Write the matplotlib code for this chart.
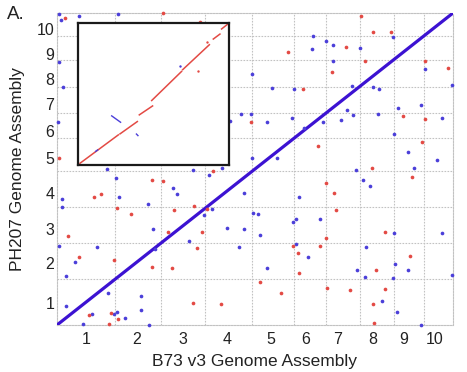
import matplotlib
matplotlib.use("Agg")
import numpy as np
import matplotlib.pyplot as plt

plt.rcParams["font.family"] = ["Liberation Sans", "DejaVu Sans"]

# chromosome lengths (Mb)
b73_len = [301.4, 237.9, 232.2, 242.0, 217.9, 169.4, 176.8, 175.4, 157.0, 149.6]
ph207_len = [310, 240, 242, 244, 224, 164, 179, 180, 164, 153]
chrom_lbl = ["1", "2", "3", "4", "5", "6", "7", "8", "9", "10"]
xtick_pos = [151, 415, 654, 883, 1112, 1291, 1459, 1643, 1803, 1964]
ytick_pos = [146, 415, 646, 887, 1122, 1306, 1486, 1656, 1822, 1992]

# off-diagonal hits, cumulative Mb (B73, PH207)
blue_x = [10, 115, 319, 21, 10, 33, 5, 262, 307, 602, 709, 788, 857, 902, 1750, 1331, 1400,
          1433, 1324, 1576, 1433, 1915, 1015, 1116, 1234, 1534, 1646, 1676, 2056, 959, 1009,
          1094, 1222, 1383, 1477, 1508, 1542, 1672, 1773, 1893, 2000, 1286, 1752, 1825, 1974,
          1016, 1146, 1556, 1857, 1594, 1628, 623, 26, 26, 323, 472, 767, 808, 501, 883, 685,
          13, 207, 510, 949, 93, 48, 264, 436, 47, 436, 184, 299, 311, 355, 134, 481, 970,
          1260, 1021, 1044, 1227, 1242, 1369, 971, 1058, 1752, 2004, 1242, 1305, 1605, 1759,
          1091, 1560, 1828, 1603, 1749, 2054, 1692, 1770, 1893]
blue_y = [2095, 2082, 2093, 2056, 1768, 1605, 1368, 1048, 991, 920, 1043, 1010, 1055, 1372,
          1941, 1947, 1914, 1887, 1856, 1862, 1779, 1723, 1691, 1592, 1589, 1611, 1604, 1586,
          1613, 1422, 1420, 1364, 1393, 1366, 1380, 1449, 1416, 1422, 1461, 1483, 1391, 1328,
          1286, 1166, 1111, 1126, 1126, 1043, 1055, 976, 938, 880, 848, 796, 864, 812, 740,
          783, 644, 651, 565, 534, 523, 512, 526, 427, 328, 217, 195, 130, 101, 74, 72, 85,
          49, 7, 2, 890, 860, 756, 747, 691, 713, 713, 648, 604, 621, 619, 545, 456, 523, 409,
          382, 372, 372, 323, 318, 339, 160, 85, 2]
red_x = [553, 42, 744, 10, 493, 550, 810, 1582, 1646, 1737, 1501, 1202, 1603, 1915, 2035,
         1428, 1282, 1010, 1799, 1912, 1357, 1896, 1638, 1846, 1400, 194, 227, 311, 384, 609,
         713, 779, 579, 753, 59, 727, 115, 298, 496, 597, 709, 852, 164, 281, 315, 272, 1442,
         1449, 1707, 1399, 1227, 1369, 1253, 1836, 1261, 1657, 1058, 1405, 1525, 1704, 1167,
         1643, 1650]
red_y = [2098, 2064, 2037, 1122, 979, 967, 1039, 2082, 1974, 1970, 1871, 1838, 1777, 1779,
         1728, 1705, 1586, 1366, 1405, 1389, 1205, 1234, 1059, 994, 958, 860, 882, 790, 745,
         774, 803, 779, 624, 628, 596, 520, 460, 437, 388, 382, 146, 141, 64, 79, 42, 7, 890,
         774, 626, 584, 530, 534, 483, 464, 352, 372, 289, 251, 234, 240, 213, 143, 15]

# inset: single-chromosome dot plot (fraction of chromosome)
inset_red_x0 = [0.011, 0.276, 0.404, 0.486, 0.691, 0.894, 0.949]
inset_red_y0 = [0.012, 0.219, 0.353, 0.454, 0.671, 0.887, 0.958]
inset_red_x1 = [0.265, 0.391, 0.492, 0.684, 0.868, 0.938, 0.993]
inset_red_y1 = [0.212, 0.306, 0.416, 0.659, 0.847, 0.922, 0.995]
inset_red_pts_x = [0.795, 0.854]
inset_red_pts_y = [0.659, 0.866]
inset_blue_x0 = [0.221, 0.385, 0.115]
inset_blue_y0 = [0.346, 0.218, 0.096]
inset_blue_x1 = [0.280, 0.395, 0.128]
inset_blue_y1 = [0.301, 0.207, 0.106]
inset_blue_pts_x = [0.673]
inset_blue_pts_y = [0.699]

RED = "#e34a44"
BLUE = "#4b3fd9"
LINE = "#3c12d2"
GRID = "#c2c2c2"
TXT = "#222222"

xb = np.concatenate([[0], np.cumsum(b73_len)])
yb = np.concatenate([[0], np.cumsum(ph207_len)])

fig = plt.figure(figsize=(4.67, 3.72), dpi=100)
ax = fig.add_axes([57 / 467, 47 / 372, 396 / 467, 312 / 372])

ax.plot([xb[0], xb[-1]], [yb[0], yb[-1]], color=LINE, lw=2.3, zorder=3, solid_capstyle="butt")
ax.scatter(blue_x, blue_y, s=7, color=BLUE, lw=0, zorder=4, clip_on=False)
ax.scatter(red_x, red_y, s=7, color=RED, lw=0, zorder=4, clip_on=False)

ax.set_xlim(xb[0], xb[-1])
ax.set_ylim(yb[0], yb[-1])
ax.set_xticks(xtick_pos)
ax.set_xticklabels(chrom_lbl)
ax.set_yticks(ytick_pos)
ax.set_yticklabels(chrom_lbl)
ax.set_xticks(xb[1:-1], minor=True)
ax.set_yticks(yb[1:-1], minor=True)
ax.grid(which="minor", color=GRID, lw=0.8, ls=(0, (1.5, 1.2)))
ax.grid(which="major", visible=False)
ax.tick_params(which="both", length=0, labelsize=11.5, colors=TXT)
ax.tick_params(axis="x", pad=5)
ax.tick_params(axis="y", pad=2)
for sp in ax.spines.values():
    sp.set_color(GRID)
    sp.set_linewidth(0.8)
    sp.set_linestyle((0, (1.5, 1.2)))

ax.set_xlabel("B73 v3 Genome Assembly", fontsize=12.5, color=TXT, labelpad=5)
ax.set_ylabel("PH207 Genome Assembly", fontsize=12.5, color=TXT, labelpad=8)
fig.text(0.015, 0.985, "A.", fontsize=13.5, color=TXT, ha="left", va="top")

# inset
axi = fig.add_axes([78.3 / 467, 207 / 372, 151 / 467, 142 / 372])
axi.set_facecolor("white")
for x0, y0, x1, y1 in zip(inset_red_x0, inset_red_y0, inset_red_x1, inset_red_y1):
    axi.plot([x0, x1], [y0, y1], color=RED, lw=1.1)
axi.scatter(inset_red_pts_x, inset_red_pts_y, s=3, color=RED, lw=0)
for x0, y0, x1, y1 in zip(inset_blue_x0, inset_blue_y0, inset_blue_x1, inset_blue_y1):
    axi.plot([x0, x1], [y0, y1], color=BLUE, lw=1.0)
axi.scatter(inset_blue_pts_x, inset_blue_pts_y, s=3, color=BLUE, lw=0)
axi.set_xlim(0, 1)
axi.set_ylim(0, 1)
axi.set_xticks([])
axi.set_yticks([])
for sp in axi.spines.values():
    sp.set_color("#1a1a1a")
    sp.set_linewidth(1.6)

fig.savefig("out.png", dpi=100)
